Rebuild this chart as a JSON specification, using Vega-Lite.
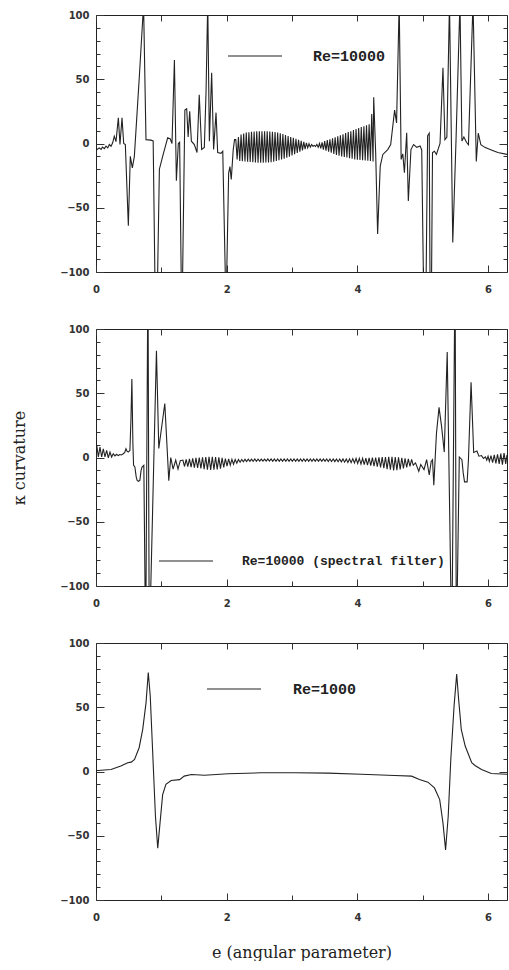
{
  "$schema": "https://vega.github.io/schema/vega-lite/v6.json",
  "background": "white",
  "padding": {"left": 11, "top": 9, "right": 0, "bottom": 0},
  "spacing": 28,
  "datasets": {
    "p1": [
      {"x":0.0,"y":-4.5},{"x":0.015,"y":-4.7},{"x":0.05,"y":-3.4},{"x":0.077,"y":-4.6},{"x":0.1,"y":-2.8},{"x":0.128,"y":-4},{"x":0.153,"y":-2.1},{"x":0.18,"y":-3.4},{"x":0.204,"y":-0.8},{"x":0.23,"y":-2.1},{"x":0.255,"y":0.5},{"x":0.28,"y":5.7},{"x":0.306,"y":1.5},{"x":0.342,"y":20},{"x":0.367,"y":-0.8},{"x":0.398,"y":20},{"x":0.424,"y":0},{"x":0.449,"y":-0.8},{"x":0.495,"y":-64},{"x":0.525,"y":-10},{"x":0.556,"y":-19},{"x":0.587,"y":-10},{"x":0.663,"y":52},{"x":0.728,"y":108},{"x":0.765,"y":3},{"x":0.84,"y":2.6},{"x":0.875,"y":2},{"x":0.908,"y":-130},{"x":0.934,"y":-130},{"x":0.97,"y":-20},{"x":1.02,"y":-10},{"x":1.097,"y":4.4},{"x":1.137,"y":3.5},{"x":1.163,"y":0},{"x":1.2,"y":65},{"x":1.23,"y":-29},{"x":1.26,"y":0},{"x":1.28,"y":1},{"x":1.31,"y":-130},{"x":1.318,"y":-130},{"x":1.36,"y":26},{"x":1.388,"y":27},{"x":1.41,"y":5},{"x":1.434,"y":25},{"x":1.46,"y":1.8},{"x":1.505,"y":-0.8},{"x":1.546,"y":-7},{"x":1.58,"y":38},{"x":1.617,"y":-4.6},{"x":1.658,"y":-3},{"x":1.684,"y":40},{"x":1.71,"y":110},{"x":1.735,"y":1.8},{"x":1.77,"y":55},{"x":1.8,"y":-4.6},{"x":1.837,"y":24},{"x":1.862,"y":-7},{"x":1.913,"y":-7.6},{"x":1.94,"y":-6},{"x":1.99,"y":-130},{"x":2.03,"y":-23},{"x":2.05,"y":-18},{"x":2.07,"y":-28},{"x":2.1,"y":-5},{"x":2.12,"y":3},
      {"x":2.14,"y":3},{"x":2.16,"y":-12.5},{"x":2.18,"y":5},{"x":2.2,"y":-13.5},{"x":2.22,"y":7},{"x":2.24,"y":-13.8},{"x":2.26,"y":7.8},{"x":2.28,"y":-14},{"x":2.3,"y":8.5},{"x":2.32,"y":-14.2},{"x":2.34,"y":8.8},{"x":2.36,"y":-14.4},{"x":2.38,"y":9.2},{"x":2.4,"y":-14.6},{"x":2.42,"y":9.3},{"x":2.44,"y":-14.8},{"x":2.46,"y":9.5},{"x":2.48,"y":-15},{"x":2.5,"y":9.5},{"x":2.52,"y":-15},{"x":2.54,"y":9.6},{"x":2.56,"y":-14.9},{"x":2.58,"y":9.5},{"x":2.6,"y":-14.8},{"x":2.62,"y":9.5},{"x":2.64,"y":-14.7},{"x":2.66,"y":9.4},{"x":2.68,"y":-14.5},{"x":2.7,"y":9.2},{"x":2.72,"y":-14.2},{"x":2.74,"y":8.9},{"x":2.76,"y":-13.6},{"x":2.78,"y":8.5},{"x":2.8,"y":-13},{"x":2.82,"y":8},{"x":2.84,"y":-12.5},{"x":2.86,"y":7.4},{"x":2.88,"y":-11.9},{"x":2.9,"y":6.6},{"x":2.92,"y":-11.1},{"x":2.94,"y":5.8},{"x":2.96,"y":-10.2},{"x":2.98,"y":5},{"x":3.0,"y":-9.3},{"x":3.02,"y":4.4},{"x":3.04,"y":-8.4},{"x":3.06,"y":3.6},{"x":3.08,"y":-7.4},{"x":3.1,"y":2.8},{"x":3.12,"y":-6.4},{"x":3.14,"y":2},{"x":3.16,"y":-5.3},{"x":3.18,"y":1.2},{"x":3.2,"y":-4.4},{"x":3.22,"y":0.5},{"x":3.24,"y":-3.4},{"x":3.26,"y":-0.2},{"x":3.28,"y":-2.8},{"x":3.3,"y":-0.8},{"x":3.32,"y":-2.2},{"x":3.34,"y":-1.5},{"x":3.36,"y":-2.3},{"x":3.38,"y":-0.7},{"x":3.4,"y":-3},{"x":3.42,"y":0},{"x":3.44,"y":-3.8},{"x":3.46,"y":0.8},{"x":3.48,"y":-4.8},{"x":3.5,"y":1.9},{"x":3.52,"y":-5.5},{"x":3.54,"y":2.6},{"x":3.56,"y":-6.3},{"x":3.58,"y":3.3},{"x":3.6,"y":-7.2},{"x":3.62,"y":4.1},{"x":3.64,"y":-8.1},{"x":3.66,"y":4.9},{"x":3.68,"y":-8.9},{"x":3.7,"y":5.7},{"x":3.72,"y":-9.5},{"x":3.74,"y":6.4},{"x":3.76,"y":-10},{"x":3.78,"y":7.1},{"x":3.8,"y":-10.5},{"x":3.82,"y":8.1},{"x":3.84,"y":-10.9},{"x":3.86,"y":8.9},{"x":3.88,"y":-11.4},{"x":3.9,"y":9.6},{"x":3.92,"y":-11.9},{"x":3.94,"y":10.5},{"x":3.96,"y":-12.4},{"x":3.98,"y":11.2},{"x":4.0,"y":-12.6},{"x":4.02,"y":12},{"x":4.04,"y":-12.8},{"x":4.06,"y":12.8},{"x":4.08,"y":-13},{"x":4.1,"y":13.5},{"x":4.12,"y":-13.2},{"x":4.14,"y":14.2},{"x":4.16,"y":-13.4},{"x":4.18,"y":15},{"x":4.2,"y":-13.7},{"x":4.22,"y":23},{"x":4.24,"y":-14},{"x":4.25,"y":36},
      {"x":4.28,"y":-7},{"x":4.31,"y":-70.5},{"x":4.35,"y":-17.6},{"x":4.39,"y":-8.5},{"x":4.465,"y":-4.7},{"x":4.51,"y":-0.8},{"x":4.57,"y":26},{"x":4.6,"y":16},{"x":4.64,"y":110},{"x":4.67,"y":-12.4},{"x":4.695,"y":-8},{"x":4.72,"y":-22.7},{"x":4.755,"y":8.3},{"x":4.78,"y":-44.7},{"x":4.82,"y":-4.7},{"x":4.86,"y":-0.8},{"x":4.91,"y":-3},{"x":4.96,"y":-2},{"x":4.985,"y":-5},{"x":5.02,"y":-140},{"x":5.045,"y":-140},{"x":5.075,"y":6},{"x":5.1,"y":8},{"x":5.115,"y":-140},{"x":5.13,"y":-140},{"x":5.15,"y":-7},{"x":5.18,"y":-6},{"x":5.21,"y":-8.5},{"x":5.265,"y":0},{"x":5.31,"y":59},{"x":5.34,"y":3},{"x":5.37,"y":5},{"x":5.41,"y":110},{"x":5.46,"y":-77},{"x":5.51,"y":3},{"x":5.57,"y":110},{"x":5.6,"y":2},{"x":5.63,"y":5},{"x":5.67,"y":1},{"x":5.7,"y":-1},{"x":5.77,"y":110},{"x":5.82,"y":-14},{"x":5.85,"y":8},{"x":5.89,"y":-1},{"x":5.95,"y":-3},{"x":6.05,"y":-5},{"x":6.15,"y":-7},{"x":6.29,"y":-8.5}
    ],
    "p2": [
      {"x":0.0,"y":10},{"x":0.012,"y":9.4},{"x":0.036,"y":0.4},{"x":0.061,"y":8.1},{"x":0.087,"y":0.4},{"x":0.112,"y":6.8},{"x":0.137,"y":0.4},{"x":0.163,"y":5.5},{"x":0.188,"y":-0.3},{"x":0.214,"y":4.2},{"x":0.239,"y":0.4},{"x":0.264,"y":2.9},{"x":0.29,"y":1.2},{"x":0.315,"y":2.5},{"x":0.34,"y":1.5},{"x":0.366,"y":2.3},{"x":0.39,"y":2},{"x":0.417,"y":2.9},{"x":0.44,"y":4},{"x":0.458,"y":6.8},{"x":0.475,"y":5},{"x":0.493,"y":4.2},{"x":0.519,"y":5.5},{"x":0.535,"y":30},{"x":0.549,"y":61},{"x":0.565,"y":10},{"x":0.575,"y":-6},{"x":0.595,"y":-7.4},{"x":0.615,"y":-15},{"x":0.63,"y":-17.8},{"x":0.65,"y":-18.5},{"x":0.671,"y":-17.8},{"x":0.69,"y":-10},{"x":0.705,"y":-7.4},{"x":0.732,"y":-6.1},{"x":0.76,"y":-150},{"x":0.795,"y":150},{"x":0.815,"y":-150},{"x":0.925,"y":83},{"x":0.961,"y":7},{"x":1.053,"y":42},{"x":1.114,"y":-18},{"x":1.144,"y":0},{"x":1.18,"y":-9},{"x":1.22,"y":-2},{"x":1.255,"y":-9},{"x":1.29,"y":-2.5},
      {"x":1.33,"y":-2},{"x":1.355,"y":-7},{"x":1.38,"y":-1.5},{"x":1.405,"y":-7.2},{"x":1.43,"y":-1},{"x":1.455,"y":-7.5},{"x":1.48,"y":-0.6},{"x":1.505,"y":-8},{"x":1.53,"y":-0.3},{"x":1.555,"y":-8.2},{"x":1.58,"y":0},{"x":1.605,"y":-8.5},{"x":1.63,"y":0.2},{"x":1.655,"y":-9},{"x":1.68,"y":0.4},{"x":1.705,"y":-9.4},{"x":1.73,"y":0.5},{"x":1.755,"y":-9.6},{"x":1.78,"y":0.5},{"x":1.805,"y":-9.5},{"x":1.83,"y":0.4},{"x":1.855,"y":-9.2},{"x":1.88,"y":0.1},{"x":1.905,"y":-8.6},{"x":1.93,"y":-0.3},{"x":1.955,"y":-7.8},{"x":1.98,"y":-0.8},{"x":2.005,"y":-6.8},{"x":2.03,"y":-1.1},{"x":2.055,"y":-6},{"x":2.08,"y":-1.4},{"x":2.105,"y":-5.2},{"x":2.13,"y":-1.5},{"x":2.155,"y":-4.4},{"x":2.18,"y":-1.5},{"x":2.205,"y":-3.7},{"x":2.23,"y":-1.5},{"x":2.255,"y":-3.3},{"x":2.28,"y":-1.4},{"x":2.305,"y":-3.1},{"x":2.33,"y":-1.3},{"x":2.355,"y":-3},{"x":2.38,"y":-1.3},{"x":2.405,"y":-2.9},{"x":2.43,"y":-1.2},{"x":2.455,"y":-2.9},{"x":2.48,"y":-1.2},{"x":2.505,"y":-2.8},{"x":2.53,"y":-1.2},{"x":2.555,"y":-2.8},{"x":2.58,"y":-1.2},{"x":2.605,"y":-2.8},{"x":2.63,"y":-1.1},{"x":2.655,"y":-2.8},{"x":2.68,"y":-1.1},{"x":2.705,"y":-2.9},{"x":2.73,"y":-1.1},{"x":2.755,"y":-2.9},{"x":2.78,"y":-1.1},{"x":2.805,"y":-2.9},{"x":2.83,"y":-1.1},{"x":2.855,"y":-2.9},{"x":2.88,"y":-1.1},{"x":2.905,"y":-2.9},{"x":2.93,"y":-1.1},{"x":2.955,"y":-2.9},{"x":2.98,"y":-1.1},{"x":3.005,"y":-2.9},{"x":3.03,"y":-1.1},{"x":3.055,"y":-2.9},{"x":3.08,"y":-1.1},{"x":3.105,"y":-2.9},{"x":3.13,"y":-1.1},{"x":3.155,"y":-2.9},{"x":3.18,"y":-1.1},{"x":3.205,"y":-2.9},{"x":3.23,"y":-1.1},{"x":3.255,"y":-2.9},{"x":3.28,"y":-1.1},{"x":3.305,"y":-2.9},{"x":3.33,"y":-1.1},{"x":3.355,"y":-3},{"x":3.38,"y":-1.1},{"x":3.405,"y":-3},{"x":3.43,"y":-1.2},{"x":3.455,"y":-3},{"x":3.48,"y":-1.2},{"x":3.505,"y":-3},{"x":3.53,"y":-1.2},{"x":3.555,"y":-3.1},{"x":3.58,"y":-1.2},{"x":3.605,"y":-3.1},{"x":3.63,"y":-1.2},{"x":3.655,"y":-3.2},{"x":3.68,"y":-1.2},{"x":3.705,"y":-3.3},{"x":3.73,"y":-1.2},{"x":3.755,"y":-3.4},{"x":3.78,"y":-1.1},{"x":3.805,"y":-3.6},{"x":3.83,"y":-1.1},{"x":3.855,"y":-3.8},{"x":3.88,"y":-1},{"x":3.905,"y":-4},{"x":3.93,"y":-0.9},{"x":3.955,"y":-4.3},{"x":3.98,"y":-0.8},{"x":4.005,"y":-4.7},{"x":4.03,"y":-0.7},{"x":4.055,"y":-5.1},{"x":4.08,"y":-0.6},{"x":4.105,"y":-5.5},{"x":4.13,"y":-0.4},{"x":4.155,"y":-6},{"x":4.18,"y":-0.3},{"x":4.205,"y":-6.4},{"x":4.23,"y":-0.1},{"x":4.255,"y":-6.8},{"x":4.28,"y":0},{"x":4.305,"y":-7.2},{"x":4.33,"y":0.2},{"x":4.355,"y":-7.8},{"x":4.38,"y":0.3},{"x":4.405,"y":-8.4},{"x":4.43,"y":0.4},{"x":4.455,"y":-9},{"x":4.48,"y":0.5},{"x":4.505,"y":-9.5},{"x":4.53,"y":0.5},{"x":4.555,"y":-10},{"x":4.58,"y":0.4},{"x":4.605,"y":-9.8},{"x":4.63,"y":0.2},{"x":4.655,"y":-9.2},{"x":4.68,"y":-0.2},{"x":4.705,"y":-8.5},{"x":4.73,"y":-0.6},{"x":4.755,"y":-7.8},{"x":4.78,"y":-1},{"x":4.805,"y":-7},{"x":4.83,"y":-1.5},
      {"x":4.855,"y":-6},{"x":4.89,"y":-4.2},{"x":4.94,"y":-10.7},{"x":4.97,"y":-5.5},{"x":5.02,"y":-9.4},{"x":5.06,"y":-1.7},{"x":5.1,"y":-13.6},{"x":5.13,"y":-3},{"x":5.15,"y":-1.7},{"x":5.17,"y":-21.6},{"x":5.21,"y":18.5},{"x":5.25,"y":39},{"x":5.29,"y":23.6},{"x":5.33,"y":4.2},{"x":5.375,"y":82},{"x":5.445,"y":-150},{"x":5.495,"y":150},{"x":5.515,"y":-150},{"x":5.56,"y":0.4},{"x":5.6,"y":-1.7},{"x":5.62,"y":-12},{"x":5.64,"y":-19},{"x":5.68,"y":-19},{"x":5.7,"y":-1.7},{"x":5.74,"y":58.6},{"x":5.78,"y":3.9},{"x":5.83,"y":5},{"x":5.86,"y":1},{"x":5.9,"y":1.5},{"x":5.93,"y":-0.8},{"x":5.96,"y":0.5},{"x":5.98,"y":-2},{"x":6.0,"y":1},{"x":6.02,"y":-3},{"x":6.045,"y":1.5},{"x":6.07,"y":-4},{"x":6.095,"y":2},{"x":6.12,"y":-4.5},{"x":6.145,"y":2.5},{"x":6.17,"y":-5},{"x":6.195,"y":3},{"x":6.22,"y":-5.5},{"x":6.245,"y":3.5},{"x":6.27,"y":-5},{"x":6.29,"y":2}
    ],
    "p3": [
      {"x":0.0,"y":0.8},{"x":0.03,"y":0.8},{"x":0.23,"y":1.6},{"x":0.38,"y":4.2},{"x":0.485,"y":6.8},{"x":0.54,"y":7.3},{"x":0.59,"y":9.4},{"x":0.66,"y":18.5},{"x":0.715,"y":32.8},{"x":0.766,"y":53.6},{"x":0.8,"y":77},{"x":0.83,"y":58.9},{"x":0.87,"y":12},{"x":0.91,"y":-35},{"x":0.945,"y":-59.6},{"x":0.98,"y":-40},{"x":1.02,"y":-18},{"x":1.07,"y":-10},{"x":1.15,"y":-7},{"x":1.28,"y":-6.3},{"x":1.35,"y":-3.6},{"x":1.46,"y":-2.3},{"x":1.66,"y":-2.9},{"x":2.02,"y":-1.8},{"x":2.53,"y":-1},{"x":3.04,"y":-1},{"x":3.55,"y":-1.3},{"x":4.06,"y":-2.1},{"x":4.57,"y":-3.1},{"x":4.83,"y":-3.6},{"x":4.95,"y":-6.3},{"x":5.08,"y":-8.3},{"x":5.18,"y":-12.8},{"x":5.26,"y":-21.9},{"x":5.31,"y":-40},{"x":5.35,"y":-61},{"x":5.39,"y":-35},{"x":5.43,"y":9.4},{"x":5.48,"y":51},{"x":5.52,"y":75.8},{"x":5.55,"y":56},{"x":5.59,"y":32.8},{"x":5.65,"y":19.8},{"x":5.75,"y":6.8},{"x":5.8,"y":4.7},{"x":5.9,"y":1.6},{"x":6.05,"y":-1.6},{"x":6.29,"y":-2.1}
    ]
  },
  "vconcat": [
    {
      "width": 411, "height": 257,
      "data": {"name": "p1"},
      "layer": [
        {
          "mark": {"type": "line", "clip": true, "strokeWidth": 1.1},
          "encoding": {
            "x": {"field": "x", "type": "quantitative", "scale": {"domain": [0, 6.29], "nice": false, "zero": false},
              "axis": {"orient": "bottom", "title": null, "values": [0,1,2,3,4,5,6], "labelExpr": "datum.value % 2 === 0 ? datum.label : ''", "tickSize": {"condition": {"test": "datum.value % 2 === 0", "value": -7}, "value": -5}, "labelPadding": 19, "labelFlush": false}},
            "y": {"field": "y", "type": "quantitative", "scale": {"domain": [-100, 100], "nice": false},
              "axis": {"orient": "left", "title": null, "values": [-100,-90,-80,-70,-60,-50,-40,-30,-20,-10,0,10,20,30,40,50,60,70,80,90,100], "labelExpr": "datum.value % 50 === 0 ? datum.label : ''", "tickSize": {"condition": {"test": "datum.value % 50 === 0", "value": -8}, "value": -4}, "labelPadding": 15}},
            "color": {"datum": "Re=10000", "type": "nominal", "scale": {"range": ["#222222"]},
              "legend": {"orient": "none", "legendX": 131, "legendY": 13, "title": null, "symbolType": "stroke", "symbolSize": 2916, "symbolStrokeWidth": 1.2, "labelOffset": 30, "labelFontSize": 15}}
          }
        },
        {
          "mark": {"type": "line", "opacity": 0, "clip": true},
          "encoding": {
            "x": {"field": "x", "type": "quantitative", "axis": {"orient": "top", "title": null, "values": [0,1,2,3,4,5,6], "labels": false, "tickSize": -6}},
            "y": {"field": "y", "type": "quantitative", "axis": {"orient": "right", "title": null, "values": [-100,-90,-80,-70,-60,-50,-40,-30,-20,-10,0,10,20,30,40,50,60,70,80,90,100], "labels": false, "tickSize": {"condition": {"test": "datum.value % 50 === 0", "value": -8}, "value": -4}}}
          }
        }
      ],
      "resolve": {"axis": {"x": "independent", "y": "independent"}}
    },
    {
      "width": 411, "height": 257,
      "data": {"name": "p2"},
      "layer": [
        {
          "mark": {"type": "line", "clip": true, "strokeWidth": 1.1},
          "encoding": {
            "x": {"field": "x", "type": "quantitative", "scale": {"domain": [0, 6.29], "nice": false, "zero": false},
              "axis": {"orient": "bottom", "title": null, "values": [0,1,2,3,4,5,6], "labelExpr": "datum.value % 2 === 0 ? datum.label : ''", "tickSize": {"condition": {"test": "datum.value % 2 === 0", "value": -7}, "value": -5}, "labelPadding": 19, "labelFlush": false}},
            "y": {"field": "y", "type": "quantitative", "scale": {"domain": [-100, 100], "nice": false},
              "axis": {"orient": "left", "title": "κ curvature", "titlePadding": 32, "values": [-100,-90,-80,-70,-60,-50,-40,-30,-20,-10,0,10,20,30,40,50,60,70,80,90,100], "labelExpr": "datum.value % 50 === 0 ? datum.label : ''", "tickSize": {"condition": {"test": "datum.value % 50 === 0", "value": -8}, "value": -4}, "labelPadding": 15}},
            "color": {"datum": "Re=10000 (spectral filter)", "type": "nominal", "scale": {"range": ["#222222"]},
              "legend": {"orient": "none", "legendX": 62, "legendY": 204, "title": null, "symbolType": "stroke", "symbolSize": 2916, "symbolStrokeWidth": 1.2, "labelOffset": 28, "labelFontSize": 13}}
          }
        },
        {
          "mark": {"type": "line", "opacity": 0, "clip": true},
          "encoding": {
            "x": {"field": "x", "type": "quantitative", "axis": {"orient": "top", "title": null, "values": [0,1,2,3,4,5,6], "labels": false, "tickSize": -6}},
            "y": {"field": "y", "type": "quantitative", "axis": {"orient": "right", "title": null, "values": [-100,-90,-80,-70,-60,-50,-40,-30,-20,-10,0,10,20,30,40,50,60,70,80,90,100], "labels": false, "tickSize": {"condition": {"test": "datum.value % 50 === 0", "value": -8}, "value": -4}}}
          }
        }
      ],
      "resolve": {"axis": {"x": "independent", "y": "independent"}}
    },
    {
      "width": 411, "height": 257,
      "data": {"name": "p3"},
      "layer": [
        {
          "mark": {"type": "line", "clip": true, "strokeWidth": 1.1},
          "encoding": {
            "x": {"field": "x", "type": "quantitative", "scale": {"domain": [0, 6.29], "nice": false, "zero": false},
              "axis": {"orient": "bottom", "title": "e (angular parameter)", "titlePadding": 22, "values": [0,1,2,3,4,5,6], "labelExpr": "datum.value % 2 === 0 ? datum.label : ''", "tickSize": {"condition": {"test": "datum.value % 2 === 0", "value": -7}, "value": -5}, "labelPadding": 19, "labelFlush": false}},
            "y": {"field": "y", "type": "quantitative", "scale": {"domain": [-100, 100], "nice": false},
              "axis": {"orient": "left", "title": null, "values": [-100,-90,-80,-70,-60,-50,-40,-30,-20,-10,0,10,20,30,40,50,60,70,80,90,100], "labelExpr": "datum.value % 50 === 0 ? datum.label : ''", "tickSize": {"condition": {"test": "datum.value % 50 === 0", "value": -8}, "value": -4}, "labelPadding": 15}},
            "color": {"datum": "Re=1000", "type": "nominal", "scale": {"range": ["#222222"]},
              "legend": {"orient": "none", "legendX": 110, "legendY": 18, "title": null, "symbolType": "stroke", "symbolSize": 2916, "symbolStrokeWidth": 1.2, "labelOffset": 31, "labelFontSize": 15}}
          }
        },
        {
          "mark": {"type": "line", "opacity": 0, "clip": true},
          "encoding": {
            "x": {"field": "x", "type": "quantitative", "axis": {"orient": "top", "title": null, "values": [0,1,2,3,4,5,6], "labels": false, "tickSize": -6}},
            "y": {"field": "y", "type": "quantitative", "axis": {"orient": "right", "title": null, "values": [-100,-90,-80,-70,-60,-50,-40,-30,-20,-10,0,10,20,30,40,50,60,70,80,90,100], "labels": false, "tickSize": {"condition": {"test": "datum.value % 50 === 0", "value": -8}, "value": -4}}}
          }
        }
      ],
      "resolve": {"axis": {"x": "independent", "y": "independent"}}
    }
  ],
  "resolve": {"scale": {"color": "independent"}, "legend": {"color": "independent"}},
  "config": {
    "view": {"stroke": "#222222", "strokeWidth": 1},
    "axis": {"grid": false, "domain": false, "tickColor": "#333333", "tickWidth": 1, "labelFont": "DejaVu Sans", "labelFontWeight": "bold", "labelFontSize": 10, "labelColor": "#333333", "titleFont": "DejaVu Serif", "titleFontSize": 16, "titleFontWeight": "normal", "titleColor": "#222222"},
    "legend": {"labelFont": "Liberation Mono", "labelFontWeight": "bold", "labelColor": "#222222", "padding": 0, "labelLimit": 400}
  }
}
